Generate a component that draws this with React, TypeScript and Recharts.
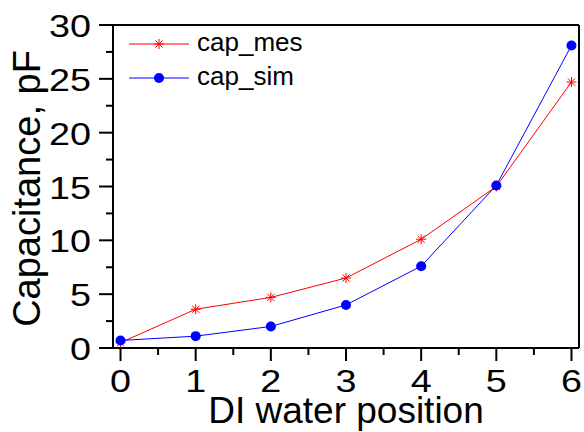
import { Label, Line, LineChart, ReferenceLine, XAxis, YAxis } from 'recharts'

const positions = [0, 1, 2, 3, 4, 5, 6]
const capMes = [0.5, 3.6, 4.7, 6.5, 10.1, 15.0, 24.7]
const capSim = [0.7, 1.1, 2.0, 4.0, 7.6, 15.1, 28.1]
const xTicks = [0, 0.5, 1, 1.5, 2, 2.5, 3, 3.5, 4, 4.5, 5, 5.5, 6]
const yTicks = [0, 2.5, 5, 7.5, 10, 12.5, 15, 17.5, 20, 22.5, 25, 27.5, 30]

const FONT = '"Liberation Sans", Arial, Helvetica, sans-serif'
const RED = '#ff0000'
const BLUE = '#0000ff'
const TICK_FONT = 32
const TICK_STRETCH = 1.18

const data = positions.map((p, i) => ({ pos: p, cap_mes: capMes[i], cap_sim: capSim[i] }))

const isMajor = (v: number) => Math.abs(v - Math.round(v)) < 1e-6

function BottomTick({ x, y, payload }: any) {
  const major = isMajor(payload.value)
  return (
    <g>
      <line x1={x} y1={y} x2={x} y2={y + (major ? 13 : 7)} stroke="#000" strokeWidth={2} />
      {major && (
        <text
          transform={`translate(${x},${y + 44}) scale(${TICK_STRETCH},1)`}
          textAnchor="middle"
          fontSize={TICK_FONT}
          fontFamily={FONT}
          fill="#000"
        >
          {payload.value}
        </text>
      )}
    </g>
  )
}

function LeftTick({ x, y, payload }: any) {
  const major = Math.abs(payload.value % 5) < 1e-6
  return (
    <g>
      <line x1={x} y1={y} x2={x - (major ? 14 : 7)} y2={y} stroke="#000" strokeWidth={2} />
      {major && (
        <text
          transform={`translate(${x - 22},${y + 12}) scale(${TICK_STRETCH},1)`}
          textAnchor="end"
          fontSize={TICK_FONT}
          fontFamily={FONT}
          fill="#000"
        >
          {payload.value}
        </text>
      )}
    </g>
  )
}

function Star({ cx, cy, size = 5, color = RED }: any) {
  if (cx == null || cy == null) return null
  const d = size * 0.72
  return (
    <g stroke={color} strokeWidth={1}>
      <line x1={cx - size} y1={cy} x2={cx + size} y2={cy} />
      <line x1={cx} y1={cy - size} x2={cx} y2={cy + size} />
      <line x1={cx - d} y1={cy - d} x2={cx + d} y2={cy + d} />
      <line x1={cx - d} y1={cy + d} x2={cx + d} y2={cy - d} />
    </g>
  )
}

function Dot({ cx, cy }: any) {
  if (cx == null || cy == null) return null
  return <circle cx={cx} cy={cy} r={5} fill={BLUE} stroke="none" />
}

function LegendBox() {
  const rows = [
    { name: 'cap_mes', color: RED, star: true },
    { name: 'cap_sim', color: BLUE, star: false },
  ]
  return (
    <svg width={200} height={80} style={{ display: 'block' }}>
      {rows.map((r, i) => {
        const y = 19 + i * 34
        return (
          <g key={r.name}>
            <line x1={4} y1={y} x2={64} y2={y} stroke={r.color} strokeWidth={1} />
            {r.star ? <Star cx={34} cy={y} /> : <Dot cx={34} cy={y} />}
            <text x={72} y={y + 7} fontSize={26} fontFamily={FONT} fill="#000">
              {r.name}
            </text>
          </g>
        )
      })}
    </svg>
  )
}

export default function App() {
  return (
    <div style={{ position: 'absolute', left: 0, top: 0, width: 584, height: 432, background: '#fff' }}>
      <LineChart
        width={584}
        height={432}
        data={data}
        margin={{ top: 25, right: 5, bottom: 0, left: 0 }}
      >
        <XAxis
          dataKey="pos"
          type="number"
          domain={[-0.1, 6.1]}
          ticks={xTicks}
          interval={0}
          height={84}
          tickSize={0}
          tickMargin={0}
          tickLine={false}
          tick={<BottomTick />}
          axisLine={{ stroke: '#000', strokeWidth: 2 }}
        >
          <Label
            content={({ viewBox }: any) => (
              <text
                x={viewBox.x + viewBox.width / 2}
                y={viewBox.y + 75}
                textAnchor="middle"
                fontSize={37}
                fontFamily={FONT}
                fill="#000"
              >
                DI water position
              </text>
            )}
          />
        </XAxis>
        <YAxis
          type="number"
          domain={[0, 30]}
          ticks={yTicks}
          interval={0}
          width={113}
          tickSize={0}
          tickMargin={0}
          tickLine={false}
          tick={<LeftTick />}
          axisLine={{ stroke: '#000', strokeWidth: 2 }}
        >
          <Label
            content={({ viewBox }: any) => (
              <text
                transform={`translate(40,${viewBox.y + viewBox.height / 2 + 2}) rotate(-90)`}
                textAnchor="middle"
                fontSize={38}
                fontFamily={FONT}
                fill="#000"
              >
                Capacitance, pF
              </text>
            )}
          />
        </YAxis>
        <ReferenceLine y={30} stroke="#000" strokeWidth={2} />
        <ReferenceLine x={6.1} stroke="#000" strokeWidth={2} />
        <Line
          dataKey="cap_mes"
          name="cap_mes"
          type="linear"
          stroke={RED}
          strokeWidth={1}
          dot={<Star />}
          activeDot={false}
          isAnimationActive={false}
        />
        <Line
          dataKey="cap_sim"
          name="cap_sim"
          type="linear"
          stroke={BLUE}
          strokeWidth={1}
          dot={<Dot />}
          activeDot={false}
          isAnimationActive={false}
        />
      </LineChart>
      <div style={{ position: 'absolute', left: 125, top: 25 }}>
        <LegendBox />
      </div>
    </div>
  )
}
